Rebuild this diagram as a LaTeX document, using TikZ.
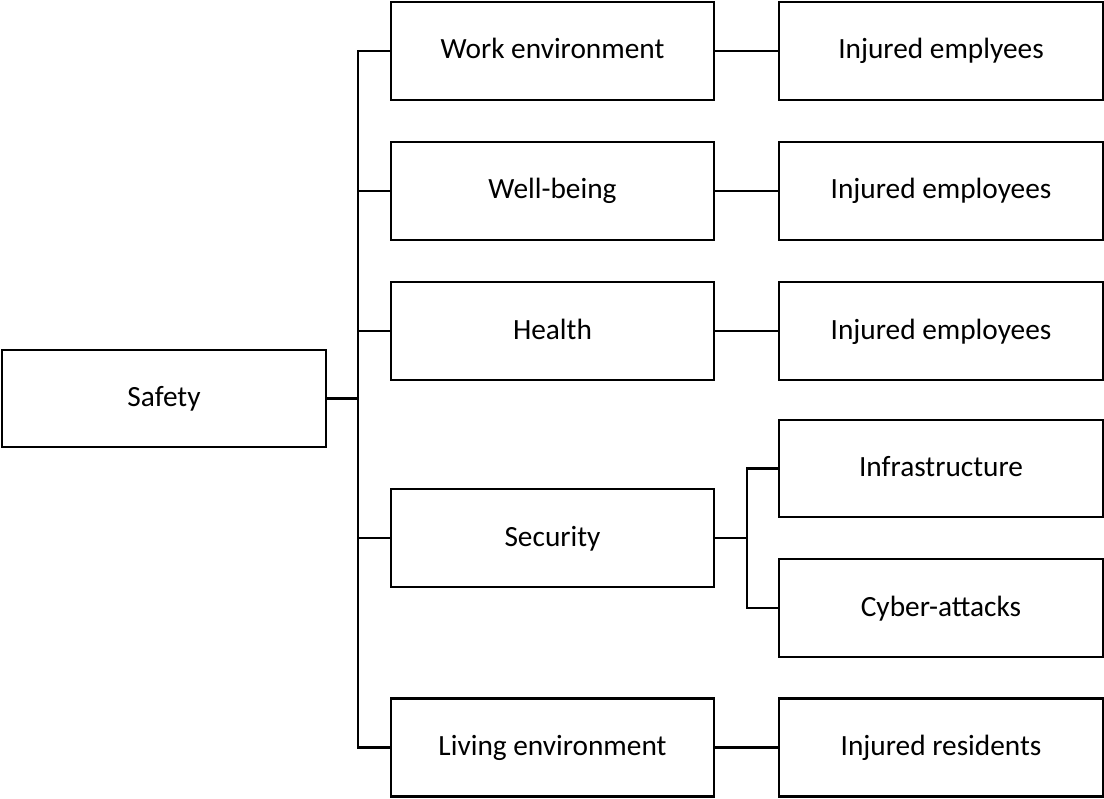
\documentclass[tikz,border=0pt]{standalone}
\usepackage{fontspec}
\setmainfont{Carlito}
\begin{document}
\begin{tikzpicture}[x=0.75pt,y=-0.75pt,
  box/.style={draw=black,line width=1.6pt,rectangle,outer sep=0pt,inner sep=0pt,
    text height=14pt,text depth=2pt,font=\fontsize{22}{26}\selectfont},
  leftbox/.style={box,minimum width=243pt,minimum height=72.75pt},
  midbox/.style={box,minimum width=242.25pt,minimum height=73.5pt},
  rightbox/.style={box,minimum width=243pt,minimum height=73.5pt},
  link/.style={draw=black,line width=1.6pt,line join=miter}]
\useasboundingbox (0,0) rectangle (1104,799);

% root
\node[leftbox] (s) at (164,398.5) {Safety};

% second level
\node[midbox] (m1) at (552.5,51) {Work environment};
\node[midbox] (m2) at (552.5,191) {Well-being};
\node[midbox] (m3) at (552.5,331) {Health};
\node[midbox] (m4) at (552.5,538) {Security};
\node[midbox] (m5) at (552.5,747.5) {Living environment};

% third level
\node[rightbox] (r1) at (941,51) {Injured emplyees};
\node[rightbox] (r2) at (941,191) {Injured employees};
\node[rightbox] (r3) at (941,331) {Injured employees};
\node[rightbox,minimum height=72.75pt] (r4) at (941,468.5) {Infrastructure};
\node[rightbox] (r5) at (941,608) {Cyber-attacks};
\node[rightbox] (r6) at (941,747.5) {Injured residents};

% trunk and branches
\coordinate (tr) at (358,0);
\coordinate (br) at (747,0);
\draw[link] (m1.west) -- (m1.west -| tr) -- (m5.west -| tr) -- (m5.west);
\draw[link] (m2.west) -- (m2.west -| tr);
\draw[link] (m3.west) -- (m3.west -| tr);
\draw[link] (m4.west) -- (m4.west -| tr);
\draw[link] (s.east) -- (s.east -| tr);

\draw[link] (m1.east) -- (r1.west);
\draw[link] (m2.east) -- (r2.west);
\draw[link] (m3.east) -- (r3.west);
\draw[link] (m5.east) -- (r6.west);

\draw[link] (m4.east) -- (m4.east -| br);
\draw[link] (r4.west) -- (r4.west -| br) -- (r5.west -| br) -- (r5.west);
\end{tikzpicture}
\end{document}
